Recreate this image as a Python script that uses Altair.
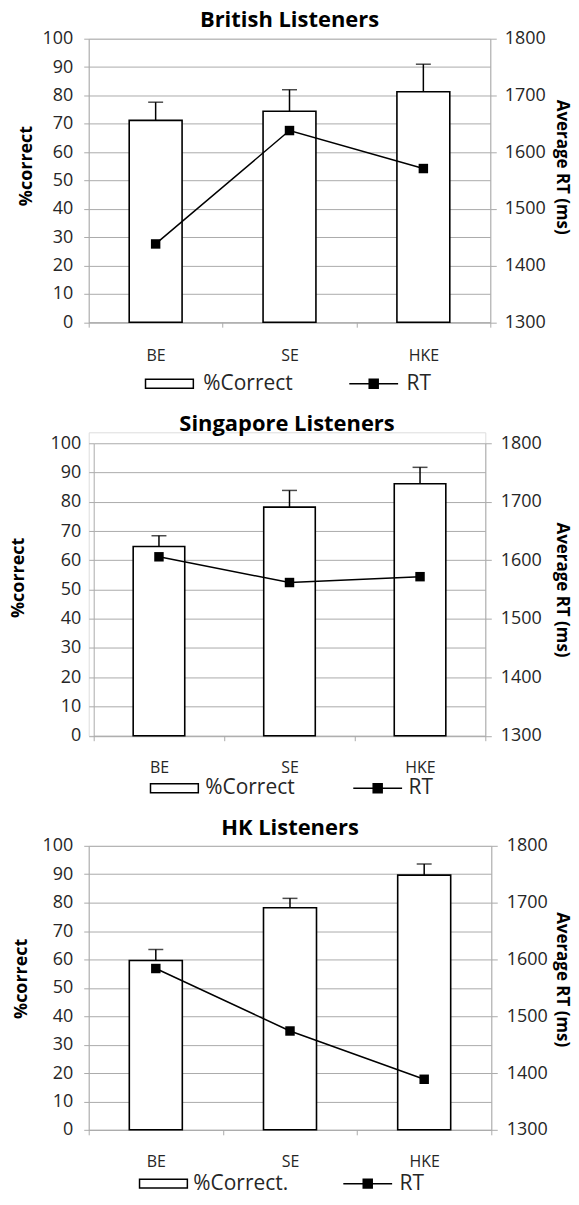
import altair as alt
import pandas as pd

categories = ["BE", "SE", "HKE"]

british_pct = [71.2, 74.4, 81.3]
british_err = [6.4, 7.6, 9.7]
british_rt = [1438, 1638, 1571]

singapore_pct = [64.7, 78.2, 86.2]
singapore_err = [3.7, 5.7, 5.6]
singapore_rt = [1606, 1562, 1572]

hk_pct = [59.6, 78.2, 89.7]
hk_err = [3.9, 3.3, 3.9]
hk_rt = [1584, 1474, 1389]

left_ticks = [0, 10, 20, 30, 40, 50, 60, 70, 80, 90, 100]
right_ticks = [1300, 1400, 1500, 1600, 1700, 1800]

FONT = "Open Sans"
GRID = "#ababab"
TXT = "#262626"
RECT_PATH = "M-2.4,-0.45H2.4V0.45H-2.4Z"
LINE_PATH = "M-2.45,0H2.45M-0.45,-0.45H0.45V0.45H-0.45Z"


def panel(title, pct, err, rt, bar_label, p):
    w, h = p["w"], p["h"]
    df = pd.DataFrame({"cat": categories, "pct": pct, "err": err, "rt": rt})
    base = alt.Chart(df).transform_calculate(
        hi="datum.pct + datum.err", s1=f"'{bar_label}'", s2="'RT'"
    )
    xaxis = alt.Axis(
        title=None, tickBand="extent", labelAngle=0, labelFontSize=16,
        labelFont=FONT, labelColor=TXT, labelPadding=p["xpad"], tickSize=5,
        tickColor=GRID, domainColor=GRID, grid=False,
    )
    x = alt.X("cat:N", sort=categories,
              scale=alt.Scale(paddingInner=0, paddingOuter=0,
                              range=[p["x0"], w]),
              axis=xaxis)
    yrange = [h, p["y0"]]
    yl_scale = alt.Scale(domain=[0, 100], nice=False, range=yrange)
    yl_axis = alt.Axis(
        values=left_ticks, title="%correct", grid=True, gridColor=GRID,
        domainColor=GRID, tickColor=GRID, tickSize=5, labelPadding=p["lpad"],
        offset=-p["x0"],
        labelFontSize=18, labelFont=FONT, labelColor=TXT,
        titleFont=FONT, titleFontSize=18, titleFontWeight="bold",
        titleColor="black", titleX=p["ltx"], titleY=p["lty"], titleAngle=270,
        titleBaseline="middle", titleAlign="center",
    )
    yr_scale = alt.Scale(domain=[1300, 1800], nice=False, range=yrange)
    yr_axis = alt.Axis(
        orient="right", values=right_ticks, format="d",
        title="Average RT (ms)",
        grid=False, domainColor=GRID, tickColor=GRID, tickSize=6,
        labelPadding=p["rpad"], labelFontSize=18, labelFont=FONT,
        labelColor=TXT,
        titleFont=FONT, titleFontSize=17, titleFontWeight="bold",
        titleColor="black", titleX=p["rtx"], titleY=p["rty"], titleAngle=90,
        titleBaseline="middle", titleAlign="center",
    )
    bar = base.mark_bar(
        stroke="black", strokeWidth=1.6, width=alt.RelativeBandSize(0.395)
    ).encode(
        x=x,
        y=alt.Y("pct:Q", scale=yl_scale, axis=yl_axis),
        fill=alt.Fill(
            "s1:N", scale=alt.Scale(domain=[bar_label], range=["white"]),
            legend=alt.Legend(
                title=None, orient="none", legendX=p["lx1"], legendY=p["ly"],
                symbolType=RECT_PATH, symbolSize=400,
                symbolStrokeColor="black", symbolStrokeWidth=1.5,
                labelFontSize=21, labelFont=FONT, labelColor=TXT,
                labelOffset=p["lo1"], padding=0,
            ),
        ),
    )
    rule = base.mark_rule(color="black", strokeWidth=1.5).encode(
        x=x, y=alt.Y("pct:Q", scale=yl_scale, axis=yl_axis), y2="hi:Q"
    )
    cap = base.mark_tick(
        color="black", thickness=1.5, size=15, orient="horizontal"
    ).encode(x=x, y=alt.Y("hi:Q", scale=yl_scale, axis=yl_axis))
    left = alt.layer(bar, rule, cap)

    line = base.mark_line(strokeWidth=1.5).encode(
        x=x,
        y=alt.Y("rt:Q", scale=yr_scale, axis=yr_axis),
        stroke=alt.Stroke(
            "s2:N", scale=alt.Scale(domain=["RT"], range=["black"]),
            legend=alt.Legend(
                title=None, orient="none", legendX=p["lx2"], legendY=p["ly"],
                symbolType=LINE_PATH, symbolSize=400,
                symbolFillColor="black", symbolStrokeWidth=1.5,
                labelFontSize=21, labelFont=FONT, labelColor=TXT,
                labelOffset=p["lo2"], padding=0,
            ),
        ),
    )
    pts = base.mark_point(
        shape="square", filled=True, color="black", size=90, opacity=1
    ).encode(x=x, y=alt.Y("rt:Q", scale=yr_scale, axis=yr_axis))
    right = alt.layer(line, pts)

    return (
        alt.layer(left, right)
        .resolve_scale(y="independent")
        .properties(
            width=w, height=h,
            title=alt.TitleParams(
                title, fontSize=22, font=FONT, fontWeight="bold",
                color="black", anchor="middle", frame="group",
                offset=p["toff"],
            ),
        )
    )


P1 = dict(w=403, h=284.5, x0=0, y0=0, xpad=20, lpad=11, rpad=8,
          ltx=-62.5, lty=127.3, rtx=71.5, rty=128.5,
          lx1=70, lo1=23, lx2=275, lo2=22, ly=335.3, toff=-1.9)
P2 = dict(w=398, h=304.5, x0=5, y0=11.1, xpad=19, lpad=8, rpad=9,
          ltx=-75.5, lty=145.6, rtx=76.5, rty=157.8,
          lx1=75, lo1=20, lx2=279, lo2=20, ly=346.3, toff=-3.7)
P3 = dict(w=404, h=285, x0=0, y0=0, xpad=19, lpad=11, rpad=9,
          ltx=-67.5, lty=133, rtx=70.5, rty=133.8,
          lx1=64, lo1=19, lx2=269, lo2=21, ly=328, toff=-2.9)

p1 = panel("British Listeners", british_pct, british_err, british_rt,
           "%Correct", P1)
p2 = panel("Singapore Listeners", singapore_pct, singapore_err, singapore_rt,
           "%Correct", P2)
p3 = panel("HK Listeners", hk_pct, hk_err, hk_rt, "%Correct.", P3)

chart = (
    alt.vconcat(p1, p2, p3, spacing=110, bounds="flush")
    .resolve_scale(fill="independent", stroke="independent")
    .resolve_legend(fill="independent", stroke="independent")
    .properties(padding={"left": 0, "top": -2.3, "right": 0, "bottom": 0})
    .configure_view(stroke=None)
    .configure(background="white")
)

chart.save("out.html", embed_options={"renderer": "svg", "actions": False})
